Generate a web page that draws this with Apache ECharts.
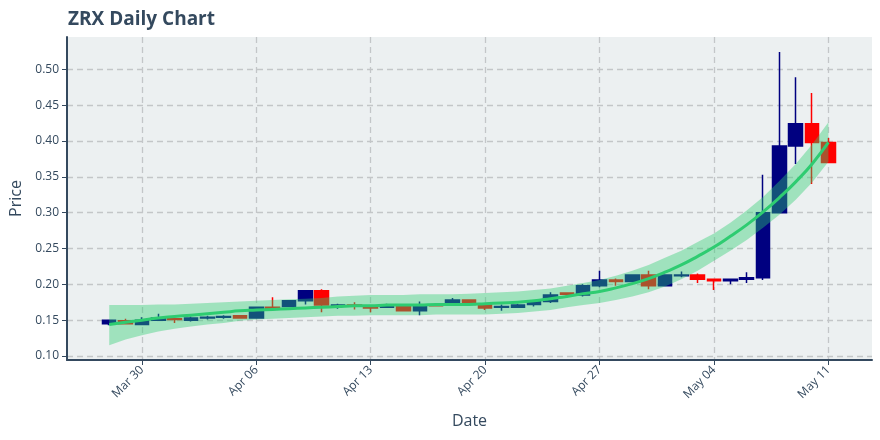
<!DOCTYPE html>
<html>
<head>
<meta charset="utf-8">
<script src="https://cdn.jsdelivr.net/npm/echarts@6/dist/echarts.min.js"></script>
<style>html,body{margin:0;padding:0;background:#fff}#c{width:880px;height:440px}</style>
</head>
<body>
<div id="c"></div>
<script>
const startDate = '2020-03-28';
const dates = ['2020-03-28','2020-03-29','2020-03-30','2020-03-31','2020-04-01','2020-04-02','2020-04-03','2020-04-04','2020-04-05','2020-04-06','2020-04-07','2020-04-08','2020-04-09','2020-04-10','2020-04-11','2020-04-12','2020-04-13','2020-04-14','2020-04-15','2020-04-16','2020-04-17','2020-04-18','2020-04-19','2020-04-20','2020-04-21','2020-04-22','2020-04-23','2020-04-24','2020-04-25','2020-04-26','2020-04-27','2020-04-28','2020-04-29','2020-04-30','2020-05-01','2020-05-02','2020-05-03','2020-05-04','2020-05-05','2020-05-06','2020-05-07','2020-05-08','2020-05-09','2020-05-10','2020-05-11'];
const open  = [0.145,0.149,0.144,0.150,0.152,0.150,0.153,0.154,0.156,0.153,0.168,0.169,0.177,0.191,0.170,0.171,0.170,0.168,0.170,0.163,0.171,0.172,0.178,0.171,0.168,0.168,0.172,0.176,0.188,0.185,0.198,0.206,0.204,0.213,0.198,0.212,0.213,0.207,0.205,0.207,0.209,0.300,0.393,0.424,0.398];
const close = [0.150,0.145,0.150,0.153,0.151,0.153,0.154,0.155,0.153,0.168,0.166,0.177,0.191,0.171,0.171,0.170,0.167,0.170,0.163,0.170,0.170,0.178,0.172,0.167,0.169,0.171,0.176,0.185,0.186,0.198,0.206,0.204,0.213,0.198,0.213,0.213,0.207,0.205,0.207,0.209,0.300,0.393,0.424,0.398,0.370];
const low   = [0.143,0.144,0.143,0.149,0.146,0.148,0.151,0.152,0.152,0.153,0.165,0.168,0.172,0.161,0.166,0.165,0.161,0.167,0.162,0.157,0.169,0.171,0.171,0.164,0.163,0.167,0.169,0.174,0.181,0.183,0.196,0.198,0.203,0.193,0.197,0.210,0.202,0.192,0.200,0.202,0.206,0.299,0.368,0.340,0.370];
const high  = [0.151,0.152,0.154,0.159,0.153,0.155,0.156,0.157,0.157,0.169,0.182,0.178,0.192,0.193,0.173,0.175,0.171,0.173,0.171,0.176,0.174,0.181,0.179,0.172,0.172,0.173,0.178,0.189,0.189,0.200,0.219,0.208,0.214,0.219,0.214,0.218,0.215,0.207,0.207,0.217,0.353,0.524,0.489,0.467,0.404];
const trend = [0.144,0.147,0.150,0.153,0.155,0.157,0.159,0.161,0.163,0.164,0.165,0.166,0.167,0.168,0.169,0.170,0.170,0.171,0.171,0.171,0.172,0.172,0.172,0.173,0.174,0.175,0.177,0.180,0.183,0.187,0.190,0.195,0.201,0.208,0.217,0.227,0.239,0.252,0.267,0.283,0.301,0.321,0.343,0.368,0.398];
const bandLower = [0.115,0.123,0.129,0.134,0.138,0.141,0.144,0.146,0.149,0.151,0.152,0.153,0.154,0.155,0.156,0.156,0.157,0.157,0.157,0.157,0.158,0.158,0.158,0.158,0.159,0.160,0.162,0.164,0.168,0.171,0.174,0.178,0.183,0.189,0.197,0.207,0.219,0.233,0.247,0.262,0.279,0.297,0.318,0.342,0.371];
const bandUpper = [0.171,0.171,0.171,0.172,0.172,0.173,0.174,0.175,0.176,0.177,0.178,0.179,0.180,0.181,0.183,0.184,0.185,0.185,0.185,0.186,0.186,0.186,0.187,0.188,0.189,0.190,0.192,0.194,0.198,0.202,0.206,0.212,0.219,0.227,0.237,0.247,0.259,0.271,0.286,0.303,0.322,0.344,0.368,0.395,0.426];
const xTickDates = ['2020-03-30','2020-04-06','2020-04-13','2020-04-20','2020-04-27','2020-05-04','2020-05-11'];
const xTickLabels = ['Mar 30','Apr 06','Apr 13','Apr 20','Apr 27','May 04','May 11'];
const yTicks = [0.10,0.15,0.20,0.25,0.30,0.35,0.40,0.45,0.50];
const xRange = ['2020-03-25T10:00','2020-05-13T16:00'];
const yRange = [0.0944, 0.5451];

const DAY = 86400000;
const t0 = Date.parse(startDate + 'T00:00:00Z');
const dayOf = s => (Date.parse((s.length > 10 ? s + ':00' : s + 'T00:00:00') + 'Z') - t0) / DAY;
const xs = dates.map(dayOf);
const xTicks = xTickDates.map(dayOf);
const labelMap = {};
xTicks.forEach((v, i) => { labelMap[v] = xTickLabels[i]; });

const candleData = xs.map((x, i) => [x, open[i], close[i], low[i], high[i]]);
const trendData = xs.map((x, i) => [x, trend[i]]);
const bandData = xs.map((x, i) => [x, bandLower[i], bandUpper[i]]);

const axisColor = '#34495e';
const font = '"Open Sans", "Liberation Sans", sans-serif';
const gridLine = { show: true, lineStyle: { color: '#c3c6c8', type: [6, 4], width: 1.3 } };

const chart = echarts.init(document.getElementById('c'), null, { renderer: 'canvas' });
chart.setOption({
  animation: false,
  backgroundColor: '#ffffff',
  textStyle: { fontFamily: font },
  title: {
    text: 'ZRX Daily Chart', left: 63, top: 5,
    textStyle: { fontSize: 19, fontWeight: 'bold', color: axisColor, fontFamily: font }
  },
  grid: { left: 66, right: 8, top: 37, bottom: 80, show: true, backgroundColor: '#ecf0f1', borderWidth: 0 },
  xAxis: {
    type: 'value', min: dayOf(xRange[0]), max: dayOf(xRange[1]),
    name: 'Date', nameLocation: 'middle', nameGap: 53,
    nameTextStyle: { fontSize: 16, color: axisColor },
    axisLine: { show: true, onZero: false, lineStyle: { color: axisColor, width: 2 } },
    axisTick: { show: true, length: 5, customValues: xTicks, lineStyle: { color: axisColor, width: 1 } },
    axisLabel: { customValues: xTicks, rotate: 45, fontSize: 12, color: axisColor, margin: 8,
      formatter: v => labelMap[v] || '' },
    splitLine: gridLine
  },
  yAxis: {
    type: 'value', min: yRange[0], max: yRange[1],
    name: 'Price', nameLocation: 'middle', nameGap: 43,
    nameTextStyle: { fontSize: 16, color: axisColor },
    axisLine: { show: true, onZero: false, lineStyle: { color: axisColor, width: 2 } },
    axisTick: { show: true, length: 5, customValues: yTicks, lineStyle: { color: axisColor, width: 1 } },
    axisLabel: { customValues: yTicks, fontSize: 12, color: axisColor, margin: 8,
      formatter: v => v.toFixed(2) },
    splitLine: gridLine
  },
  series: [
    {
      type: 'candlestick', z: 2, barWidth: 14,
      encode: { x: 0, y: [1, 2, 3, 4] },
      data: candleData,
      itemStyle: { color: '#000080', color0: '#ff0000', borderColor: '#000080', borderColor0: '#ff0000', borderWidth: 1.5 }
    },
    {
      type: 'custom', z: 3, silent: true,
      encode: { x: 0, y: [1, 2] },
      data: bandData,
      renderItem: function (params, api) {
        if (params.dataIndex !== 0) return null;
        const top = bandData.map(d => api.coord([d[0], d[2]]));
        const bottom = bandData.map(d => api.coord([d[0], d[1]])).reverse();
        return {
          type: 'polygon',
          shape: { points: top.concat(bottom) },
          style: { fill: 'rgba(46,204,113,0.4)' }
        };
      }
    },
    {
      type: 'line', z: 4, data: trendData, symbol: 'none', smooth: true,
      lineStyle: { color: '#2ecc71', width: 3 }
    }
  ]
});
</script>
</body>
</html>
